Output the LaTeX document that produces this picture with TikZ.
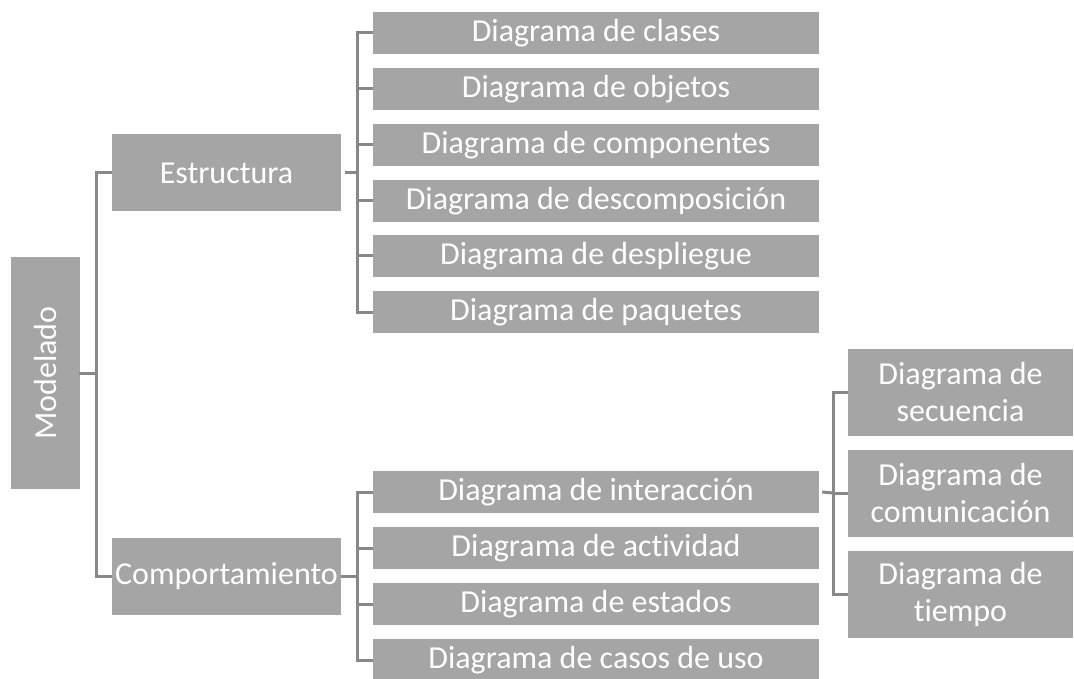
\documentclass[tikz,border=0pt]{standalone}
\usepackage{fontspec}
\setmainfont[Ligatures=NoCommon]{Carlito}
\definecolor{boxgray}{HTML}{A5A5A5}
\definecolor{linegray}{HTML}{888888}
\begin{document}
\begin{tikzpicture}[x=1pt,y=-1pt,
  box/.style={rectangle, fill=boxgray, text=white, inner sep=0pt, anchor=center,
    font=\fontsize{32}{37}\selectfont, align=center},
  leaf/.style={box, minimum width=446pt, minimum height=42pt},
  mid/.style={box, minimum width=229pt, minimum height=77pt},
  tall/.style={box, minimum width=225pt, minimum height=87pt},
  conn/.style={draw=linegray, line width=3pt}]
\useasboundingbox (0,0) rectangle (1074,679);
% root
\node[box, minimum width=232pt, minimum height=69pt, rotate=90] (M) at (45.5,373) {Modelado};
% level 1
\node[mid] (E) at (226.5,173) {Estructura};
\node[mid] (C) at (226.5,576) {Comportamiento};
% structure leaves
\node[leaf] (s1) at (596,33) {Diagrama de clases};
\node[leaf] (s2) at (596,89) {Diagrama de objetos};
\node[leaf] (s3) at (596,145) {Diagrama de componentes};
\node[leaf] (s4) at (596,201) {Diagrama de descomposición};
\node[leaf] (s5) at (596,256) {Diagrama de despliegue};
\node[leaf] (s6) at (596,312) {Diagrama de paquetes};
% behaviour leaves
\node[leaf] (b1) at (596,492) {Diagrama de interacción};
\node[leaf] (b2) at (596,548) {Diagrama de actividad};
\node[leaf] (b3) at (596,604) {Diagrama de estados};
\node[leaf] (b4) at (596,660) {Diagrama de casos de uso};
% interaction leaves
\node[tall] (i1) at (960.5,392) {Diagrama de\\secuencia};
\node[tall] (i2) at (960.5,493) {Diagrama de\\comunicación};
\node[tall] (i3) at (960.5,594) {Diagrama de\\tiempo};
% branch points
\coordinate (jM) at (96,373);
\coordinate (jE) at (357,173);
\coordinate (jC) at (357,576);
\coordinate (jI) at (833,493);
% connectors
\draw[conn] ([xshift=-1pt]M.south) -- (jM);
\draw[conn] (jM) |- (E.west);
\draw[conn] (jM) |- (C.west);
\draw[conn] ([xshift=4pt]E.east) -- (jE);
\foreach \n in {s1,s2,s3,s4,s5,s6} \draw[conn] (jE) |- (\n.west);
\draw[conn] (C.east) -- (jC);
\foreach \n in {b1,b2,b3,b4} \draw[conn] (jC) |- (\n.west);
\draw[conn] ([xshift=3pt]b1.east) -- (jI);
\foreach \n in {i1,i2,i3} \draw[conn] (jI) |- (\n.west);
\end{tikzpicture}
\end{document}
